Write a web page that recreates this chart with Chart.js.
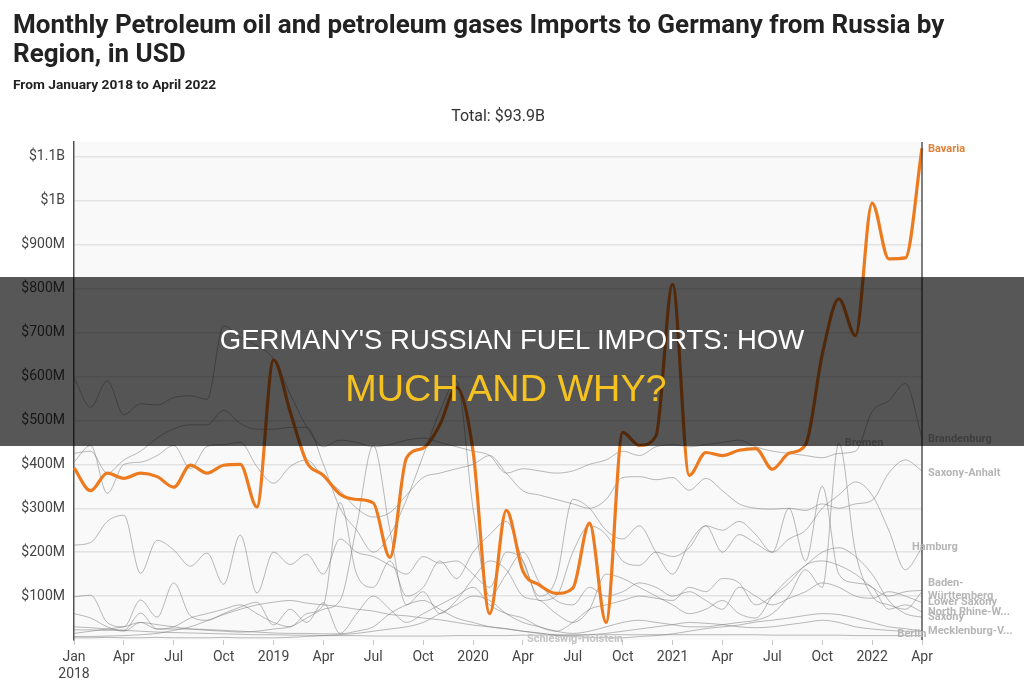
<!DOCTYPE html>
<html>
<head>
<meta charset="utf-8">
<script src="https://cdn.jsdelivr.net/npm/chart.js@4.4.0/dist/chart.umd.min.js"></script>
<style>
  body { margin: 0; background: #fff; width: 1024px; height: 695px; overflow: hidden; position: relative; font-family: Roboto, sans-serif; }
  #myChart { position: absolute; left: 0; top: 0; }
  .head { position: absolute; left: 13px; white-space: nowrap; font-family: Roboto, sans-serif; font-weight: bold; color: #222; transform-origin: 0 0; }
  #t1 { top: 10px; font-size: 25px; line-height: 29px; }
  #t2 { top: 39px; font-size: 25px; line-height: 29px; }
  #subtitle { top: 78px; font-size: 13px; line-height: 13px; }
  #total { position: absolute; left: 0; width: 996px; text-align: center; top: 108px; font-size: 16px; line-height: 16px; color: #333; }
  #banner { position: absolute; left: 0; top: 277px; width: 1024px; height: 169px; background: rgba(0,0,0,0.66); }
  #banner .l1 { position: absolute; left: 0; width: 1024px; top: 49px; text-align: center; font-family: "Liberation Sans", Arial, sans-serif; font-size: 27.5px; line-height: 27px; color: #fff; }
  #banner .l2 { position: absolute; left: 0; width: 1012px; top: 93px; text-align: center; font-family: "Liberation Sans", Arial, sans-serif; font-size: 37.8px; line-height: 37px; color: #f6c21f; }
</style>
</head>
<body>
<canvas id="myChart" width="1024" height="695"></canvas>
<div id="t1" class="head">Monthly Petroleum oil and petroleum gases Imports to Germany from Russia by</div>
<div id="t2" class="head">Region, in USD</div>
<div id="subtitle" class="head">From January 2018 to April 2022</div>
<div id="total">Total: $93.9B</div>
<div id="banner">
  <div class="l1">GERMANY'S RUSSIAN FUEL IMPORTS: HOW</div>
  <div class="l2">MUCH AND WHY?</div>
</div>
<script>
// months Jan 2018 .. Apr 2022
var months = [
    'Jan 2018','Feb 2018','Mar 2018','Apr 2018','May 2018','Jun 2018','Jul 2018','Aug 2018','Sep 2018','Oct 2018','Nov 2018','Dec 2018',
    'Jan 2019','Feb 2019','Mar 2019','Apr 2019','May 2019','Jun 2019','Jul 2019','Aug 2019','Sep 2019','Oct 2019','Nov 2019','Dec 2019',
    'Jan 2020','Feb 2020','Mar 2020','Apr 2020','May 2020','Jun 2020','Jul 2020','Aug 2020','Sep 2020','Oct 2020','Nov 2020','Dec 2020',
    'Jan 2021','Feb 2021','Mar 2021','Apr 2021','May 2021','Jun 2021','Jul 2021','Aug 2021','Sep 2021','Oct 2021','Nov 2021','Dec 2021',
    'Jan 2022','Feb 2022','Mar 2022','Apr 2022'
];

// values in million USD
var bavaria = [392,340,380,368,380,372,348,398,380,398,400,303,
    638,520,405,375,332,320,312,188,415,437,490,575,
    430,60,295,157,125,106,118,266,40,473,443,465,
    810,375,427,420,432,436,389,425,445,650,777,693,
    995,868,870,1120];
var brandenburg = [598,530,590,513,538,535,552,556,548,715,690,670,
    640,560,485,440,455,450,440,445,455,460,450,440,
    430,420,380,390,385,380,385,400,410,430,420,440,
    445,440,445,450,455,440,430,425,420,415,425,430,
    520,545,584,460];
var saxonyAnhalt = [405,443,334,400,405,420,443,390,441,445,450,395,
    357,395,410,370,340,300,280,290,330,370,380,390,
    400,420,380,340,330,320,310,300,320,370,372,365,
    370,341,368,340,310,300,298,300,295,310,300,310,
    318,380,410,385];
var hamburg = [216,222,270,284,152,227,205,168,198,127,239,107,
    200,172,195,150,230,200,190,170,150,190,175,180,
    150,120,200,180,90,100,200,260,240,180,170,200,
    190,210,260,250,270,240,200,230,250,300,330,360,
    330,250,160,210];
var lowerSaxony = [425,430,380,410,430,460,481,490,490,523,493,480,
    480,484,484,400,300,250,200,240,320,420,520,590,
    300,100,150,200,130,90,80,120,100,110,130,120,
    100,110,90,70,120,100,80,95,110,130,120,100,
    95,110,100,85];
var northRhine = [60,50,30,20,40,25,30,50,60,70,80,60,
    40,30,60,80,313,150,120,180,100,120,180,140,
    200,240,270,180,100,140,320,300,250,230,260,200,
    150,220,260,200,240,220,200,300,180,350,150,130,
    120,70,80,64];
var saxony = [15,20,25,30,40,35,30,25,22,20,18,20,
    25,30,50,70,90,260,443,250,80,110,60,90,
    140,180,160,100,90,60,40,70,150,140,120,100,
    80,60,70,90,60,50,100,140,170,200,210,190,
    150,90,60,52];
var bremen = [5,5,6,5,5,6,5,5,5,6,5,5,
    5,6,8,10,12,15,20,25,30,40,60,80,
    100,90,60,40,30,20,15,20,30,40,45,40,
    35,30,30,35,40,45,60,100,160,120,448,200,
    100,80,70,110];
var badenWuerttemberg = [98,102,40,30,91,52,130,55,45,60,75,86,
    34,70,40,85,15,60,100,70,40,60,80,100,
    120,80,60,50,30,20,40,70,80,90,100,95,
    90,120,110,140,130,80,100,130,170,180,170,150,
    120,100,110,113];
var mecklenburg = [23,23,22,22,61,25,25,25,24,22,20,18,
    16,15,15,14,14,20,30,60,80,90,70,50,
    40,30,25,20,15,12,10,12,15,20,25,30,
    35,40,38,35,30,28,30,35,40,45,40,30,
    25,22,20,20];
var berlin = [30,28,25,22,20,18,17,16,15,14,13,12,
    12,11,11,10,10,10,9,9,9,9,9,10,
    10,10,10,11,11,11,12,12,12,12,12,12,
    12,12,12,12,12,12,11,11,11,11,11,10,
    10,10,10,10];
var schleswig = [8,8,9,10,12,15,22,30,44,58,70,80,
    86,90,84,80,76,70,66,58,55,50,46,40,
    34,30,26,20,16,10,8,6,5,5,8,10,
    14,20,26,30,34,41,45,50,56,60,58,50,
    40,30,26,20];

var yTicks = [100,200,300,400,500,600,700,800,900,1000,1100];

var grays = [
    ['Brandenburg', brandenburg], ['Saxony-Anhalt', saxonyAnhalt], ['Hamburg', hamburg],
    ['Lower Saxony', lowerSaxony], ['North Rhine-Westphalia', northRhine], ['Saxony', saxony],
    ['Bremen', bremen], ['Baden-Württemberg', badenWuerttemberg], ['Mecklenburg-Vorpommern', mecklenburg],
    ['Berlin', berlin], ['Schleswig-Holstein', schleswig]
];

// line end labels: text, month index, value to anchor at, dx
var endLabels = [
    ['Bavaria', 51, 1118, 6, '#e0813a'],
    ['Brandenburg', 51, 457, 6, '#b5b5b5'],
    ['Saxony-Anhalt', 51, 380, 6, '#b5b5b5'],
    ['Hamburg', 51, 211, -10, '#b5b5b5'],
    ['Baden-', 51, 130, 6, '#b5b5b5'],
    ['Württemberg', 51, 99, 6, '#b5b5b5'],
    ['Lower Saxony', 51, 85, 6, '#b5b5b5'],
    ['North Rhine-W...', 51, 64, 6, '#b5b5b5'],
    ['Saxony', 51, 52, 6, '#b5b5b5'],
    ['Mecklenburg-V...', 51, 20, 6, '#b5b5b5'],
    ['Berlin', 50, 14, -8, '#b5b5b5'],
    ['Bremen', 46, 448, 6, '#b5b5b5'],
    ['Schleswig-Holstein', 27, 2, 4, '#c4c4c4']
];

function money(v) {
    if (v >= 1000) return '$' + (v / 1000) + 'B';
    return '$' + v + 'M';
}

// squeeze the heading text to the narrow width of the original face
function squeeze(ids, w) {
    var k = w / document.getElementById(ids[0]).scrollWidth;
    ids.forEach(function (id) { document.getElementById(id).style.transform = 'scaleX(' + k + ')'; });
}
squeeze(['t1', 't2'], 931);
squeeze(['subtitle'], 203);

var decor = {
    id: 'decor',
    beforeDraw: function (chart) {
        var a = chart.chartArea, c = chart.ctx;
        c.save();
        c.fillStyle = '#f9f9f9';
        c.fillRect(a.left, a.top, a.right - a.left, a.bottom - a.top);
        c.restore();
    },
    afterDatasetsDraw: function (chart) {
        var a = chart.chartArea, c = chart.ctx;
        var xs = chart.scales.x, ys = chart.scales.y;
        c.save();
        c.strokeStyle = '#555';
        c.lineWidth = 1.5;
        c.beginPath();
        c.moveTo(a.right, a.top); c.lineTo(a.right, a.bottom);
        c.stroke();
        c.font = 'bold 11px Roboto, sans-serif';
        c.textBaseline = 'middle';
        endLabels.forEach(function (l) {
            c.fillStyle = l[4];
            c.fillText(l[0], xs.getPixelForValue(l[1]) + l[3], ys.getPixelForValue(l[2]));
        });
        c.restore();
    }
};

var datasets = [{
    label: 'Bavaria',
    data: bavaria,
    borderColor: '#ec7a1f',
    borderWidth: 3.2,
    pointRadius: 0,
    cubicInterpolationMode: 'monotone'
}];
grays.forEach(function (g) {
    datasets.push({
        label: g[0],
        data: g[1],
        borderColor: 'rgba(120,120,120,0.5)',
        borderWidth: 1,
        pointRadius: 0,
        cubicInterpolationMode: 'monotone'
    });
});

var ctx = document.getElementById('myChart').getContext('2d');
var myChart = new Chart(ctx, {
    type: 'line',
    data: { labels: months, datasets: datasets },
    plugins: [decor],
    options: {
        responsive: false,
        animation: false,
        devicePixelRatio: 1,
        layout: { padding: { top: 142, right: 102, left: 0, bottom: 0 } },
        plugins: { legend: { display: false }, tooltip: { enabled: false } },
        scales: {
            x: {
                offset: false,
                afterFit: function (s) { s.height = 55; },
                border: { display: false },
                grid: {
                    drawOnChartArea: false,
                    tickLength: 5,
                    color: '#c8c8c8'
                },
                ticks: {
                    autoSkip: false,
                    maxRotation: 0,
                    padding: 4,
                    color: '#444',
                    font: { family: 'Roboto', size: 14 },
                    callback: function (v, i) {
                        if (i % 3 !== 0) return null;
                        var p = months[i].split(' ');
                        if (p[0] === 'Jan') return i === 0 ? ['Jan', p[1]] : p[1];
                        return p[0];
                    }
                }
            },
            y: {
                min: 0,
                max: 1134,
                afterFit: function (s) { s.width = 74; },
                afterBuildTicks: function (s) { s.ticks = yTicks.map(function (v) { return { value: v }; }); },
                border: { display: true, color: '#555', width: 1.5 },
                grid: { color: '#e3e3e3', lineWidth: 1.5, drawTicks: false },
                ticks: {
                    padding: 9,
                    color: '#444',
                    font: { family: 'Roboto', size: 14 },
                    callback: function (v) { return money(v); }
                }
            }
        }
    }
});
</script>
</body>
</html>
